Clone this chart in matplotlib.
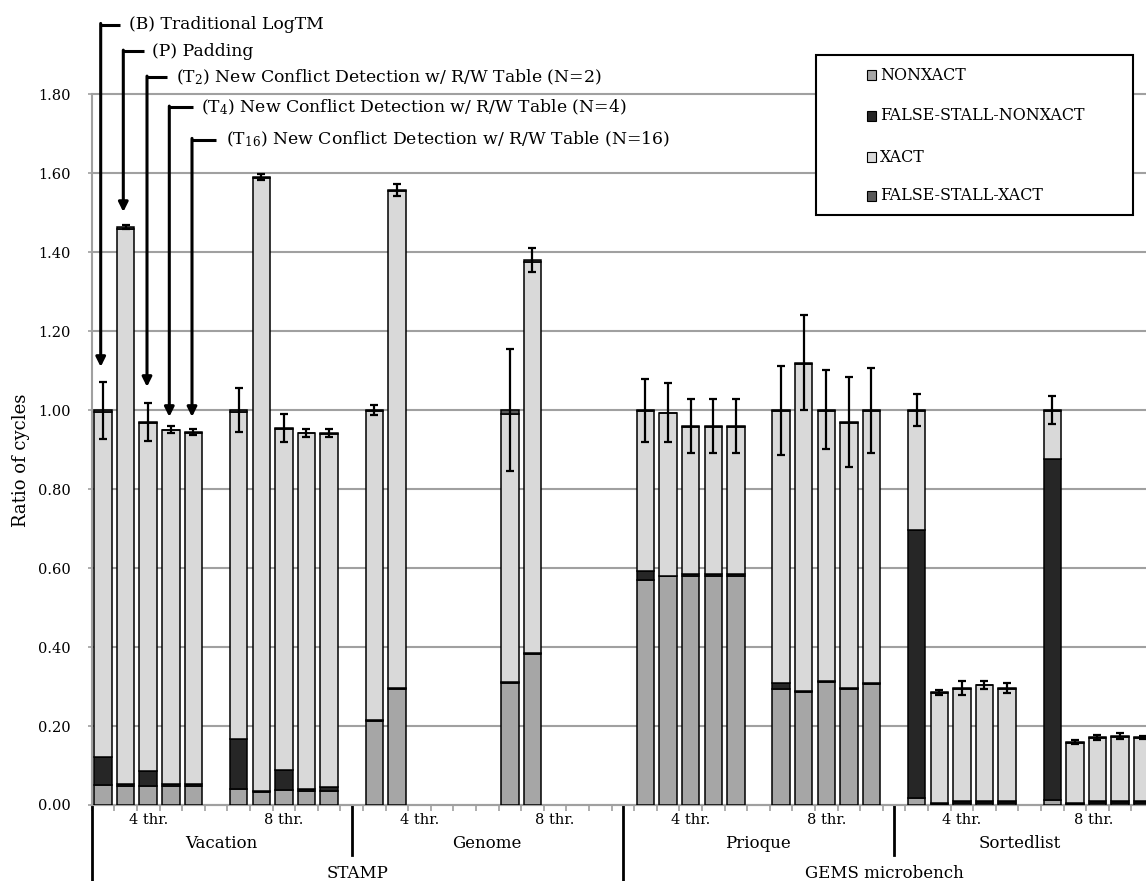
import numpy as np
import matplotlib
matplotlib.use("Agg")
import matplotlib.pyplot as plt
from matplotlib.patches import Rectangle
from matplotlib.lines import Line2D
import matplotlib.transforms as mtransforms

plt.rcParams['font.family'] = ['DejaVu Serif']
plt.rcParams['mathtext.fontset'] = 'dejavuserif'

# categories
suites = ["STAMP", "GEMS microbench"]
benchmarks = ["Vacation", "Genome", "Prioque", "Sortedlist"]
threads = ["4 thr.", "8 thr."]
configs = ["B", "P", "T2", "T4", "T16"]

# per bar, order: benchmark -> thread -> config  (nan = no run)
nan = np.nan
nonxact = [0.051, 0.049, 0.049, 0.049, 0.049,
           0.040, 0.034, 0.038, 0.035, 0.035,
           0.213, 0.295, nan, nan, nan,
           0.310, 0.382, nan, nan, nan,
           0.570, 0.579, 0.579, 0.579, 0.579,
           0.293, 0.287, 0.312, 0.293, 0.307,
           0.017, 0.003, 0.004, 0.004, 0.004,
           0.012, 0.003, 0.004, 0.004, 0.004]
false_stall_nonxact = [0.071, 0.003, 0.037, 0.004, 0.004,
                       0.128, 0.002, 0.051, 0.005, 0.011,
                       0.002, 0.002, nan, nan, nan,
                       0.002, 0.002, nan, nan, nan,
                       0.022, 0.002, 0.005, 0.005, 0.005,
                       0.015, 0.002, 0.002, 0.003, 0.003,
                       0.679, 0.002, 0.005, 0.006, 0.006,
                       0.864, 0.002, 0.005, 0.006, 0.005]
xact = [0.874, 1.408, 0.882, 0.896, 0.890,
        0.828, 1.552, 0.863, 0.901, 0.893,
        0.782, 1.257, nan, nan, nan,
        0.678, 0.990, nan, nan, nan,
        0.406, 0.411, 0.374, 0.374, 0.374,
        0.690, 0.829, 0.685, 0.672, 0.688,
        0.302, 0.278, 0.286, 0.293, 0.284,
        0.122, 0.153, 0.160, 0.163, 0.160]
false_stall_xact = [0.004, 0.003, 0.002, 0.002, 0.002,
                    0.004, 0.003, 0.003, 0.002, 0.003,
                    0.003, 0.003, nan, nan, nan,
                    0.010, 0.006, nan, nan, nan,
                    0.002, 0.002, 0.002, 0.002, 0.002,
                    0.002, 0.002, 0.002, 0.002, 0.002,
                    0.002, 0.002, 0.002, 0.002, 0.002,
                    0.002, 0.002, 0.002, 0.002, 0.002]
err = [0.072, 0.005, 0.047, 0.010, 0.008,
       0.055, 0.008, 0.035, 0.010, 0.010,
       0.012, 0.015, nan, nan, nan,
       0.155, 0.030, nan, nan, nan,
       0.080, 0.075, 0.068, 0.068, 0.068,
       0.113, 0.120, 0.100, 0.115, 0.108,
       0.040, 0.006, 0.018, 0.010, 0.013,
       0.035, 0.005, 0.006, 0.008, 0.005]

labels = ["NONXACT", "FALSE-STALL-NONXACT", "XACT", "FALSE-STALL-XACT"]
colors = ["#a6a6a6", "#262626", "#d9d9d9", "#595959"]
series = [nonxact, false_stall_nonxact, xact, false_stall_xact]

# bar slots: 5 bars + blank per thread group, 12 slots per benchmark
x = np.array([12 * b + 6 * t + c for b in range(4) for t in range(2) for c in range(5)], dtype=float)
xmax = 46.15

fig = plt.figure(figsize=(11.46, 8.81), dpi=100)
ax = fig.add_axes([91.7 / 1146, 76 / 881, (1146 - 91.7) / 1146, 710.7 / 881])

valid = ~np.isnan(np.array(nonxact))
bottom = np.zeros(len(x))
for vals, col, lab in zip(series, colors, labels):
    v = np.array(vals)
    ax.bar(x[valid], v[valid], bottom=bottom[valid], width=0.77, color=col,
           edgecolor="black", linewidth=1.1, label=lab, zorder=3)
    bottom = bottom + np.nan_to_num(v)

e = np.array(err)
ax.errorbar(x[valid], bottom[valid], yerr=e[valid], fmt="none", ecolor="black",
            elinewidth=1.6, capsize=3, capthick=1.6, zorder=4)

ax.set_xlim(-0.5, xmax)
ax.set_ylim(0, 1.8)
ax.set_yticks(np.arange(0, 1.81, 0.2))
ax.set_yticklabels([f"{v:.2f}" for v in np.arange(0, 1.81, 0.2)], fontsize=10.5)
ax.yaxis.grid(True, color="#a0a0a0", linewidth=1.5, zorder=0)
for gl in ax.get_ygridlines():
    gl.set_clip_on(False)
ax.set_axisbelow(True)
for s in ["top", "right"]:
    ax.spines[s].set_visible(False)
ax.spines["left"].set_color("#a0a0a0")
ax.spines["left"].set_linewidth(1.5)
ax.spines["bottom"].set_color("#a0a0a0")
ax.spines["bottom"].set_linewidth(1.5)
ax.tick_params(axis="y", length=3, color="#a0a0a0", width=1.2, pad=12)
ax.set_xticks(np.arange(-0.5, xmax, 1.0))
ax.set_xticklabels([])
ax.tick_params(axis="x", length=4, color="#a0a0a0", width=1.2)

fig.text(21 / 1146, 1 - 460 / 881, "Ratio of cycles", rotation=90,
         ha="center", va="center", fontsize=13)

# multi-level category labels
trans = mtransforms.blended_transform_factory(ax.transData, ax.transAxes)
for b in range(4):
    for t in range(2):
        lo = 12 * b + 6 * t - 0.5
        hi = min(lo + 5, xmax)
        ax.text((lo + hi) / 2, -0.021, threads[t], transform=trans,
                ha="center", va="center", fontsize=10.5)
bench_edges = [-0.5, 11.0, 23.0, 35.0, xmax]
for b in range(4):
    ax.text((bench_edges[b] + bench_edges[b + 1]) / 2, -0.054, benchmarks[b],
            transform=trans, ha="center", va="center", fontsize=12)
suite_edges = [-0.5, 23.0, xmax]
for s in range(2):
    ax.text((suite_edges[s] + suite_edges[s + 1]) / 2, -0.096, suites[s],
            transform=trans, ha="center", va="center", fontsize=12)
for xe in [11.0, 35.0]:
    ax.add_line(Line2D([xe, xe], [0, -0.07], transform=trans, color="black",
                       linewidth=2, clip_on=False))
for xe in [-0.5, 23.0]:
    ax.add_line(Line2D([xe, xe], [0, -0.12], transform=trans, color="black",
                       linewidth=2, clip_on=False))

# config callouts over Vacation 4 thr.
def px2x(px):
    return (px - 91.7) / 22.6 - 0.5

def py2y(py):
    return (805 - py) / 395

callouts = [
    ("(B) Traditional LogTM", 100.7, 120, 129, 24.3, 366.7),
    ("(P) Padding", 123.3, 144, 152, 51, 211.7),
    (r"(T$_2$) New Conflict Detection w/ R/W Table (N=2)", 147, 167, 176, 77, 386.7),
    (r"(T$_4$) New Conflict Detection w/ R/W Table (N=4)", 169.3, 193, 201, 107, 416.7),
    (r"(T$_{16}$) New Conflict Detection w/ R/W Table (N=16)", 192, 216, 226, 139.3, 416.7),
]
for txt, xa, xl, xt, yt, ytip in callouts:
    ax.add_line(Line2D([px2x(xa), px2x(xl)], [py2y(yt), py2y(yt)], color="black",
                       linewidth=2.2, clip_on=False, solid_capstyle="butt"))
    ax.annotate("", xy=(px2x(xa), py2y(ytip)), xytext=(px2x(xa), py2y(yt) + 0.003),
                arrowprops=dict(arrowstyle="-|>", color="black", lw=2.2,
                                mutation_scale=14, shrinkA=0, shrinkB=0),
                annotation_clip=False)
    ax.text(px2x(xt), py2y(yt), txt, ha="left", va="center", fontsize=12.4, clip_on=False)

# legend box
fig.patches.append(Rectangle((816 / 1146, 1 - 215 / 881), 317 / 1146, 160 / 881,
                             transform=fig.transFigure, facecolor="white",
                             edgecolor="black", linewidth=1.5, zorder=5))
for i, (lab, col) in enumerate(zip(labels, colors)):
    yy = 1 - [75, 116, 157, 196][i] / 881
    fig.patches.append(Rectangle((867 / 1146, yy - 4.5 / 881), 9 / 1146, 9 / 881,
                                 transform=fig.transFigure, facecolor=col,
                                 edgecolor="black", linewidth=0.8, zorder=6))
    fig.text(880 / 1146, yy, lab, ha="left", va="center", fontsize=11.4, zorder=7)

fig.savefig("out.png", dpi=100)
